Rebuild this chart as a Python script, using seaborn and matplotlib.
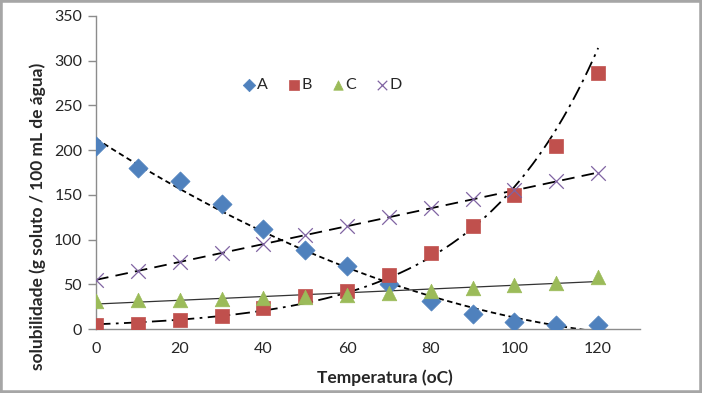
import numpy as np
import pandas as pd
import seaborn as sns
import matplotlib.pyplot as plt
from matplotlib.patches import Rectangle

# data
temperatura = [0, 10, 20, 30, 40, 50, 60, 70, 80, 90, 100, 110, 120]
sol_a = [205, 180, 165, 140, 112, 88, 70, 50, 31, 17, 8, 5, 5]
sol_b = [5, 6, 10, 15, 23, 37, 43, 60, 85, 115, 150, 205, 286]
sol_c = [31, 32, 33, 34, 35, 36, 38, 40, 43, 46, 49, 52, 58]
sol_d = [55, 65, 75, 85, 95, 105, 115, 125, 135, 145, 155, 165, 175]

sns.set_style("white")
plt.rcParams['font.family'] = ['Lato', 'DejaVu Sans']

fig = plt.figure(figsize=(7.02, 3.93), dpi=100)
ax = fig.add_axes([0.1368, 0.1628, 0.7749, 0.7965])

df = pd.DataFrame({"T": temperatura, "A": sol_a, "B": sol_b, "C": sol_c, "D": sol_d})

# trendlines, Excel style fits
xs = np.linspace(0, 120, 300)
fit_a = np.polyval(np.polyfit(df["T"], df["A"], 2), xs)
kb = np.polyfit(df["T"], np.log(df["B"]), 1)
fit_b = np.exp(np.polyval(kb, xs))
fit_c = np.polyval(np.polyfit(df["T"], df["C"], 1), xs)
fit_d = np.polyval(np.polyfit(df["T"], df["D"], 1), xs)

ax.plot(xs, fit_a, color="black", lw=1.3, dashes=(3, 2), zorder=2)
ax.plot(xs, fit_b, color="black", lw=1.3, dashes=(8, 3, 1.5, 3), zorder=2)
ax.plot(xs, fit_c, color="#333333", lw=0.9, zorder=2)
ax.plot(xs, fit_d, color="black", lw=1.3, dashes=(7, 4), zorder=2)

series = [
    ("A", "D", "#4F81BD", 95, None),
    ("B", "s", "#C0504D", 100, None),
    ("C", "^", "#9BBB59", 110, None),
    ("D", "x", "#8064A2", 110, 0.9),
]
for name, mk, col, sz, lw in series:
    kw = dict(linewidth=lw) if lw else dict(edgecolor=col, linewidth=0.5)
    sns.scatterplot(data=df, x="T", y=name, marker=mk, color=col, s=sz,
                    ax=ax, label=name, zorder=3, **kw)

ax.set_xlim(0, 130)
ax.set_ylim(0, 350)
ax.set_xticks(range(0, 121, 20))
ax.set_yticks(range(0, 351, 50))

for side in ["top", "right"]:
    ax.spines[side].set_visible(False)
for side in ["left", "bottom"]:
    ax.spines[side].set_color("#8c8c8c")
    ax.spines[side].set_linewidth(1.0)
ax.tick_params(axis="y", direction="out", length=6, width=1, color="#8c8c8c",
               labelsize=11.5, pad=4, left=True)
ax.tick_params(axis="x", length=0, labelsize=11.5, pad=9)

ax.set_xlabel("Temperatura (oC)", fontsize=12.5, fontweight="bold")
ax.set_ylabel("solubilidade (g soluto / 100 mL de água)", fontsize=12.5, fontweight="bold")
ax.xaxis.set_label_coords(0.531, -0.13)
ax.yaxis.set_label_coords(-0.092, 0.36)

leg = ax.legend(loc="center", bbox_to_anchor=(0.415, 0.78), ncol=4, frameon=False,
                fontsize=11.5, handletextpad=0.0, columnspacing=1.1,
                handlelength=1.0, markerscale=0.65)

fig.patches.append(Rectangle((0, 0), 1, 1, transform=fig.transFigure, fill=False,
                             edgecolor="#a6a6a6", linewidth=4, zorder=10))

fig.savefig("out.png", dpi=100)
